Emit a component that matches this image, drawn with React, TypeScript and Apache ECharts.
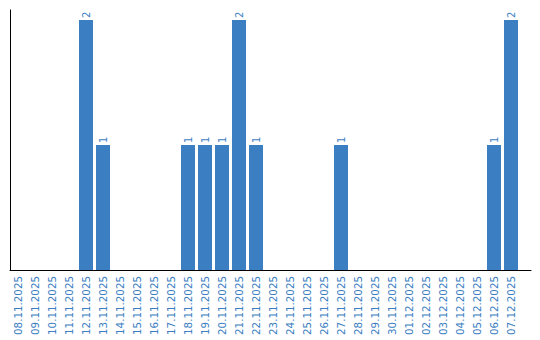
import React, { useEffect, useRef } from "react";
import * as echarts from "echarts";

const categories = [
  "08.11.2025", "09.11.2025", "10.11.2025", "11.11.2025", "12.11.2025",
  "13.11.2025", "14.11.2025", "15.11.2025", "16.11.2025", "17.11.2025",
  "18.11.2025", "19.11.2025", "20.11.2025", "21.11.2025", "22.11.2025",
  "23.11.2025", "24.11.2025", "25.11.2025", "26.11.2025", "27.11.2025",
  "28.11.2025", "29.11.2025", "30.11.2025", "01.12.2025", "02.12.2025",
  "03.12.2025", "04.12.2025", "05.12.2025", "06.12.2025", "07.12.2025",
];
const values = [
  0, 0, 0, 0, 2,
  1, 0, 0, 0, 0,
  1, 1, 1, 2, 1,
  0, 0, 0, 0, 1,
  0, 0, 0, 0, 0,
  0, 0, 0, 1, 2,
];

const BLUE = "#3b7ec2";

export default function App() {
  const ref = useRef<HTMLDivElement>(null);
  useEffect(() => {
    document.body.style.margin = "0";
    if (!ref.current) return;
    const chart = echarts.init(ref.current, undefined, { renderer: "svg" });
    chart.setOption({
      animation: false,
      grid: [
        { left: 9.5, width: 510, top: 10, bottom: 70, containLabel: false },
        { left: 10, right: 9, top: 10, bottom: 70, containLabel: false },
      ],
      xAxis: [
        {
          type: "category",
          gridIndex: 0,
          data: categories,
          axisLine: { show: false },
          axisTick: { show: false },
          axisLabel: {
            rotate: 90,
            interval: 0,
            color: BLUE,
            fontSize: 10.3,
            fontFamily: "DejaVu Sans",
            margin: 6,
          },
        },
        {
          type: "value",
          gridIndex: 1,
          min: 0,
          max: 1,
          axisLine: { show: true, onZero: false, lineStyle: { color: "#000", width: 1 } },
          axisTick: { show: false },
          axisLabel: { show: false },
          splitLine: { show: false },
        },
      ],
      yAxis: [
        {
          type: "value",
          gridIndex: 0,
          min: 0,
          max: 2.08,
          axisLine: { show: false },
          axisTick: { show: false },
          axisLabel: { show: false },
          splitLine: { show: false },
        },
        {
          type: "value",
          gridIndex: 1,
          min: 0,
          max: 1,
          axisLine: { show: true, onZero: false, lineStyle: { color: "#000", width: 1 } },
          axisTick: { show: false },
          axisLabel: { show: false },
          splitLine: { show: false },
        },
      ],
      series: [
        {
          type: "bar",
          xAxisIndex: 0,
          yAxisIndex: 0,
          data: values.map((v) => (v === 0 ? null : v)),
          barWidth: 14,
          itemStyle: { color: BLUE },
          label: {
            show: true,
            position: "top",
            rotate: 90,
            align: "left",
            verticalAlign: "middle",
            distance: 2,
            color: BLUE,
            fontSize: 10,
            fontFamily: "DejaVu Sans",
          },
        },
      ],
    });
    return () => chart.dispose();
  }, []);
  return <div ref={ref} style={{ width: 540, height: 340 }} />;
}
